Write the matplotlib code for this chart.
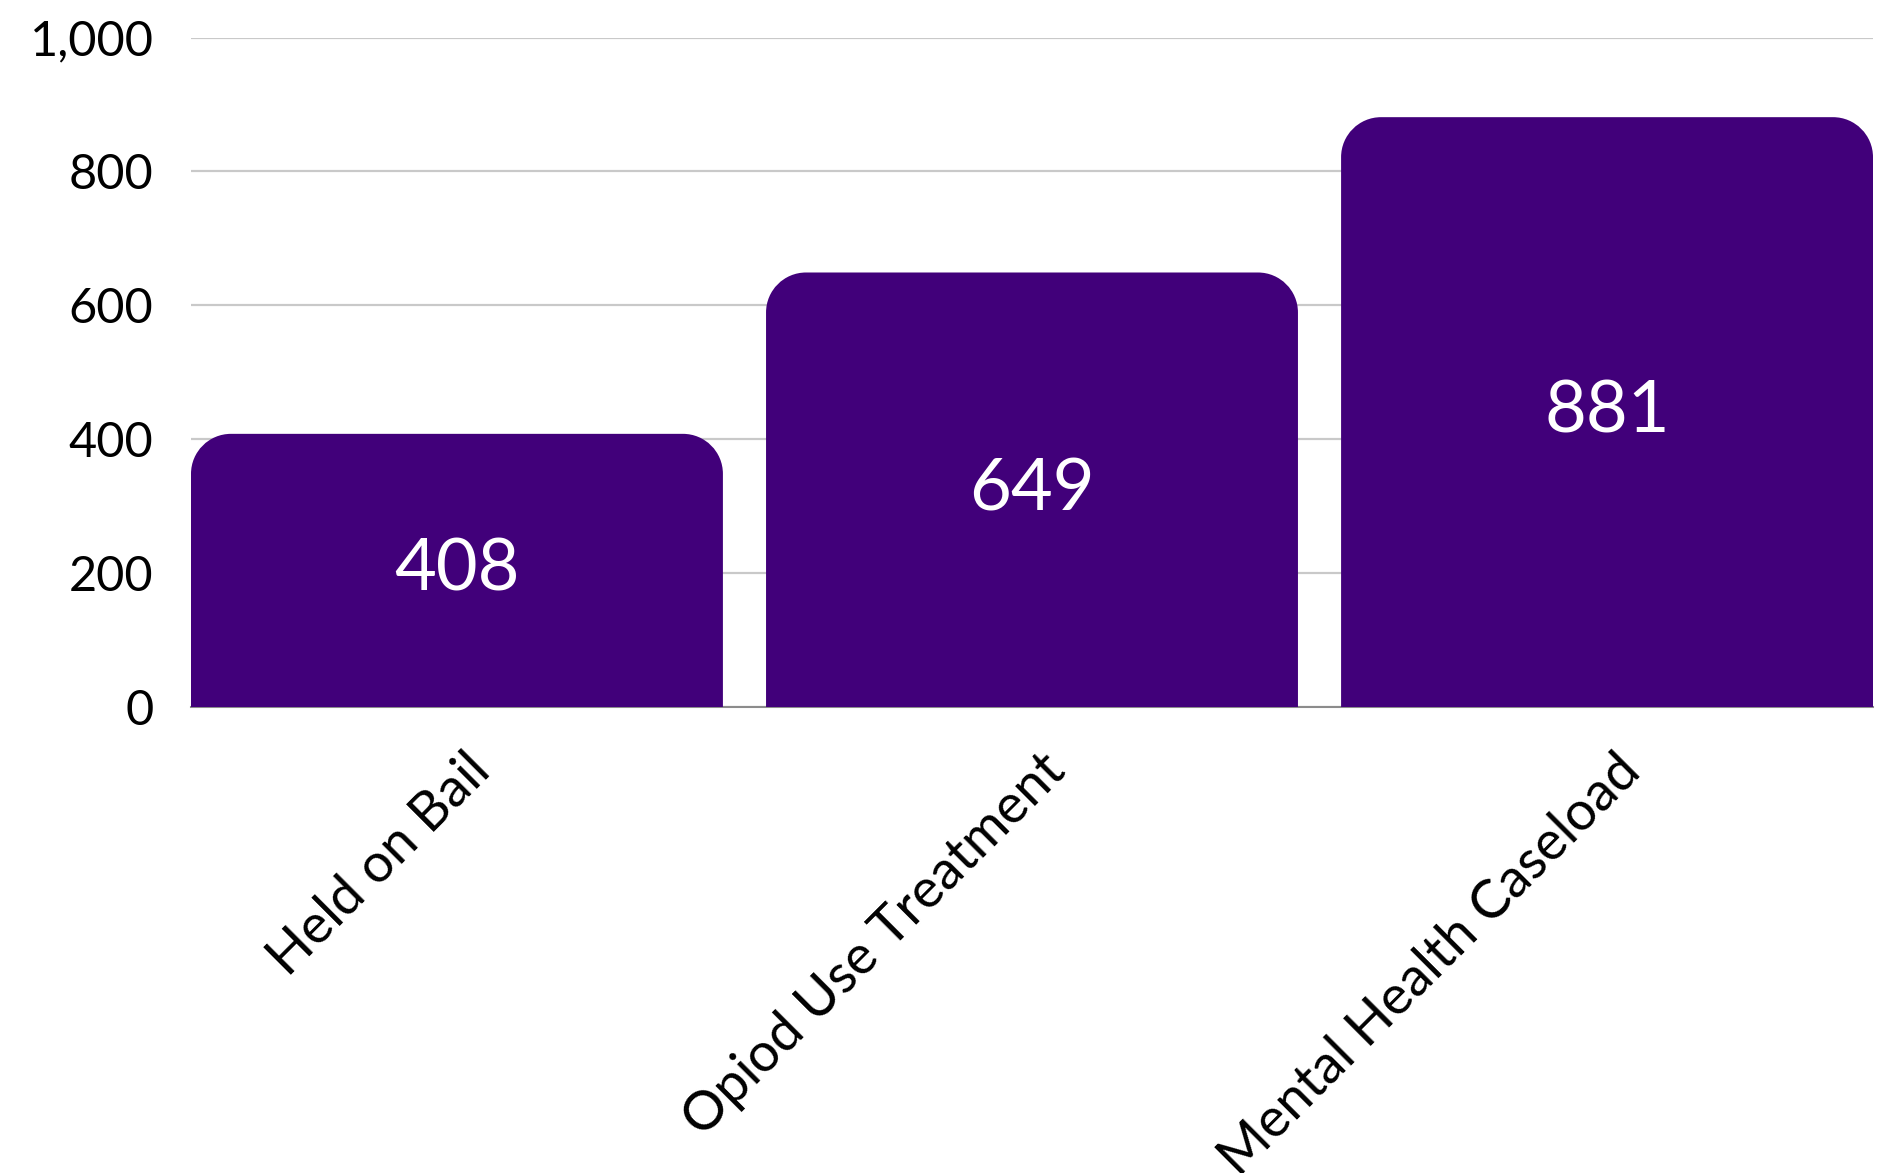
import matplotlib
matplotlib.use("Agg")
import matplotlib.pyplot as plt
import matplotlib.transforms as mtransforms
from matplotlib.path import Path as MPath
from matplotlib.patches import PathPatch
from matplotlib.ticker import FuncFormatter

categories = ["Held on Bail", "Opiod Use Treatment", "Mental Health Caseload"]
values = [408, 649, 881]

BAR_COLOR = "#41007A"
GRID_COLOR = "#c9c9c9"

plt.rcParams["font.family"] = ["Lato", "DejaVu Sans"]

W, H, DPI = 1895, 1173, 100
fig = plt.figure(figsize=(W / DPI, H / DPI), dpi=DPI)
ax = fig.add_axes([191 / W, 1 - 707 / H, (1873 - 191) / W, (707 - 37.5) / H])

width = 0.925
bars = ax.bar(range(len(values)), values, width=width, color=BAR_COLOR, zorder=3)
ax.set_xlim(-width / 2, len(values) - 1 + width / 2)
ax.set_ylim(0, 1000)


def round_top(ax, patch, r_px=40):
    # swap the square bar for one with rounded top corners (radius in pixels)
    x0, y0 = patch.get_x(), patch.get_y()
    w, h = patch.get_width(), patch.get_height()
    bbox = ax.get_window_extent()
    x_lo, x_hi = ax.get_xlim()
    y_lo, y_hi = ax.get_ylim()
    rx = r_px * (x_hi - x_lo) / bbox.width
    ry = r_px * (y_hi - y_lo) / bbox.height
    k = 0.5523
    x1, y1 = x0 + w, y0 + h
    verts = [
        (x0, y0), (x0, y1 - ry),
        (x0, y1 - ry + k * ry), (x0 + rx - k * rx, y1), (x0 + rx, y1),
        (x1 - rx, y1),
        (x1 - rx + k * rx, y1), (x1, y1 - ry + k * ry), (x1, y1 - ry),
        (x1, y0), (x0, y0),
    ]
    codes = [MPath.MOVETO, MPath.LINETO,
             MPath.CURVE4, MPath.CURVE4, MPath.CURVE4,
             MPath.LINETO,
             MPath.CURVE4, MPath.CURVE4, MPath.CURVE4,
             MPath.LINETO, MPath.CLOSEPOLY]
    ax.add_patch(PathPatch(MPath(verts, codes), facecolor=patch.get_facecolor(),
                           edgecolor="none", zorder=3))
    patch.remove()


for b in list(bars):
    round_top(ax, b)

for i, v in enumerate(values):
    ax.text(i, v / 2, f"{v:,}", ha="center", va="center", color="white",
            fontsize=52, zorder=4)

ax.set_yticks([0, 200, 400, 600, 800, 1000])
ax.yaxis.set_major_formatter(FuncFormatter(lambda v, _: f"{int(v):,}"))
ax.grid(axis="y", color=GRID_COLOR, linewidth=1.6, zorder=0)
ax.tick_params(axis="y", length=0, pad=27, labelsize=35)
ax.tick_params(axis="x", length=0, pad=40, labelsize=39)
ax.set_xticks(range(len(categories)))
ax.set_xticklabels(categories, rotation=45, ha="right", va="center",
                   rotation_mode="anchor")
shift = mtransforms.ScaledTranslation(0.25, 0, fig.dpi_scale_trans)
for lab in ax.get_xticklabels():
    lab.set_transform(lab.get_transform() + shift)

for s in ["top", "right", "left"]:
    ax.spines[s].set_visible(False)
ax.spines["bottom"].set_color("#8c8c8c")
ax.spines["bottom"].set_linewidth(1.5)
ax.spines["bottom"].set_zorder(2)

fig.savefig("out.png", dpi=DPI)
